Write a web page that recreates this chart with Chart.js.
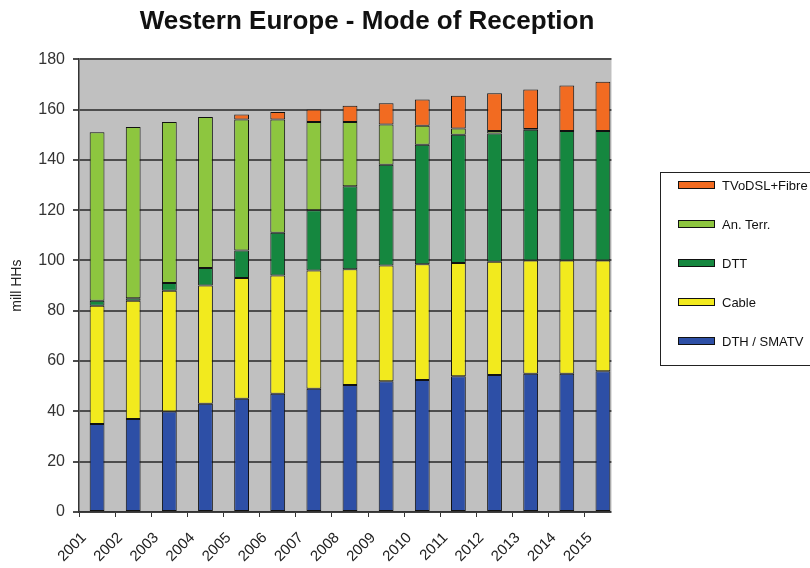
<!DOCTYPE html>
<html lang="en">
<head>
    <meta charset="UTF-8" />
    <title>Western Europe - Mode of Reception</title>
    <script src="https://cdn.jsdelivr.net/npm/chart.js"></script>
    <style>
        html, body { margin: 0; padding: 0; background: #fff; }
        #wrap { width: 810px; height: 568px; position: relative; }
    </style>
</head>
<body>
    <div id="wrap"><canvas id="receptionChart"></canvas></div>

    <script>
        // values, mill HHs
        const years = ["2001", "2002", "2003", "2004", "2005", "2006", "2007", "2008",
                       "2009", "2010", "2011", "2012", "2013", "2014", "2015"];
        const dthSmatv = [35, 37, 40, 43, 45, 47, 49, 50.5, 52, 52.5, 54, 54.5, 55, 55, 56];
        const cable    = [47, 47, 48, 47, 48, 47, 47, 46, 46, 46, 45, 45, 45, 45, 44];
        const dtt      = [2, 1, 3, 7, 11, 17, 24, 33, 40, 47.5, 51, 51, 52, 51.5, 51.5];
        const anTerr   = [67, 68, 64, 60, 52, 45, 35, 25.5, 16, 7.5, 2.5, 1, 0.3, 0, 0];
        const tvDslFibre = [0, 0, 0, 0, 2, 3, 5, 6.5, 8.5, 10.5, 13, 15, 15.7, 18, 19.5];

        const yTicks = [0, 20, 40, 60, 80, 100, 120, 140, 160, 180];

        const fontFamily = "'Liberation Sans', Arial, sans-serif";
        const edge = "#111";

        function series(label, data, color) {
            return {
                label: label,
                data: data,
                backgroundColor: color,
                borderColor: edge,
                borderWidth: 1,
                borderSkipped: false,
                barPercentage: 0.41,
                categoryPercentage: 1
            };
        }

        // grey plot background
        const plotBackground = {
            id: "plotBackground",
            beforeDraw(chart) {
                const a = chart.chartArea;
                const ctx = chart.ctx;
                ctx.save();
                ctx.fillStyle = "#c0c0c0";
                ctx.fillRect(a.left, a.top, a.right - a.left, a.bottom - a.top);
                ctx.restore();
            }
        };

        // the source plot is cut off just after the last bar
        const cropRight = {
            id: "cropRight",
            afterDatasetsDraw(chart) {
                const a = chart.chartArea;
                const ctx = chart.ctx;
                ctx.save();
                ctx.fillStyle = "#fff";
                ctx.fillRect(a.right - 9.5, a.top - 3, 20, a.bottom - a.top + 12);
                ctx.restore();
            }
        };

        // boxed legend on the right, top entry = top of stack
        const boxLegend = {
            id: "boxLegend",
            afterDraw(chart) {
                const ctx = chart.ctx;
                const sets = chart.data.datasets.slice().reverse();
                const left = 660, top = 172, bottom = 365;
                ctx.save();
                ctx.strokeStyle = "#222";
                ctx.lineWidth = 1;
                ctx.strokeRect(left + 0.5, top + 0.5, 200, bottom - top);
                ctx.font = "13px " + fontFamily;
                ctx.textBaseline = "middle";
                sets.forEach((ds, i) => {
                    const y = 185 + i * 39;
                    ctx.fillStyle = ds.backgroundColor;
                    ctx.fillRect(678, y - 4, 37, 8);
                    ctx.strokeStyle = edge;
                    ctx.strokeRect(678.5, y - 3.5, 36, 7);
                    ctx.fillStyle = "#111";
                    ctx.fillText(ds.label, 722, y + 1);
                });
                ctx.restore();
            }
        };

        const ctx = document.getElementById("receptionChart").getContext("2d");
        new Chart(ctx, {
            type: "bar",
            data: {
                labels: years,
                datasets: [
                    series("DTH / SMATV", dthSmatv, "#2d4fa6"),
                    series("Cable", cable, "#f2ea1e"),
                    series("DTT", dtt, "#15873f"),
                    series("An. Terr.", anTerr, "#8dc63f"),
                    series("TVoDSL+Fibre", tvDslFibre, "#f26b21")
                ]
            },
            options: {
                responsive: true,
                maintainAspectRatio: false,
                animation: false,
                layout: { padding: { left: 0, right: 76, top: 0, bottom: 0 } },
                plugins: {
                    legend: { display: false },
                    tooltip: { enabled: false },
                    title: {
                        display: true,
                        text: "Western Europe - Mode of Reception",
                        color: "#111",
                        font: { family: fontFamily, size: 26, weight: "bold" },
                        padding: { top: 6, bottom: 22 }
                    }
                },
                scales: {
                    x: {
                        stacked: true,
                        grid: {
                            display: true,
                            drawOnChartArea: false,
                            offset: true,
                            color: "#333",
                            tickLength: 5
                        },
                        border: { display: true, color: "#333", width: 1.5 },
                        ticks: {
                            color: "#222",
                            font: { family: fontFamily, size: 15 },
                            minRotation: 45,
                            maxRotation: 45,
                            padding: 12,
                            labelOffset: -13
                        },
                        afterFit(scale) { scale.height = 56; }
                    },
                    y: {
                        stacked: true,
                        min: 0,
                        max: 180,
                        afterBuildTicks(scale) { scale.ticks = yTicks.map(v => ({ value: v })); },
                        grid: { color: "#4d4d4d", lineWidth: 2, tickLength: 6 },
                        border: { display: true, color: "#333", width: 1.5 },
                        ticks: {
                            color: "#333",
                            font: { family: fontFamily, size: 16 },
                            padding: 8
                        },
                        title: {
                            display: true,
                            text: "mill HHs",
                            color: "#222",
                            font: { family: fontFamily, size: 14 },
                            padding: { top: 9, bottom: 0 }
                        },
                        afterFit(scale) { scale.width = 79; }
                    },
                    pad: {
                        type: "linear",
                        position: "right",
                        display: true,
                        grid: { display: false },
                        border: { display: false },
                        ticks: { display: false },
                        afterFit(scale) { scale.width = 113; }
                    }
                }
            },
            plugins: [plotBackground, cropRight, boxLegend]
        });
    </script>
</body>
</html>
